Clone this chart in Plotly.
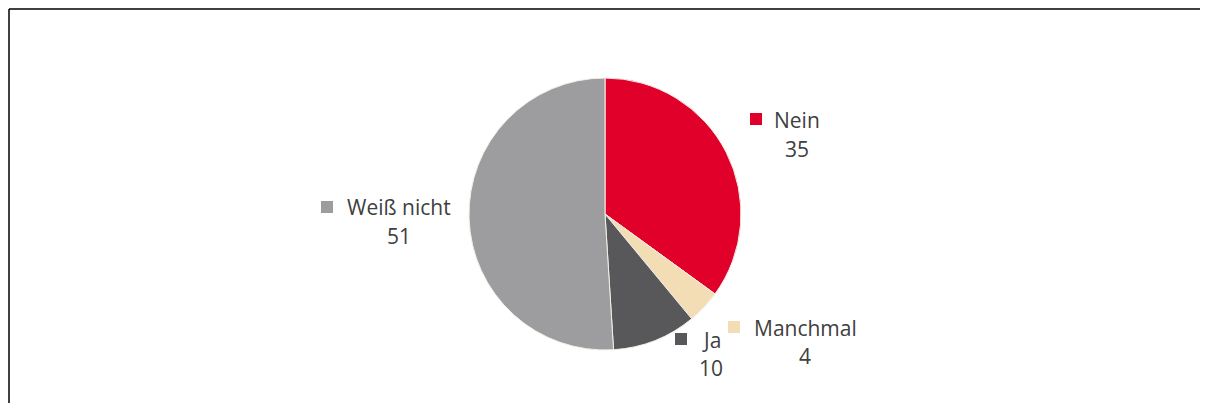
import plotly.graph_objects as go

categories = ["Nein", "Manchmal", "Ja", "Weiß nicht"]
values = [35, 4, 10, 51]
colors = ["#E1002A", "#F2DDB5", "#58585A", "#9D9D9F"]

# page body has an 8px margin, so the figure starts at (8, 8) of the window
OFF = 8
W, H = 1208 - OFF, 403 - OFF

def px(x):
    return (x - OFF) / W

def py(y):
    return 1 - (y - OFF) / H

# (name centre x, name mid y, value mid y, square centre x, square centre y) in window pixels
label_pos = {
    "Nein": (797, 119, 148, 756, 119),
    "Manchmal": (805, 327, 355, 734, 327),
    "Ja": (711, 339, 367, 681, 339),
    "Weiß nicht": (399, 206, 235, 327, 207),
}
SQ = 12

fig = go.Figure()
cx, cy, r = 605, 214, 136
fig.add_trace(go.Pie(
    labels=categories,
    values=values,
    sort=False,
    direction="clockwise",
    rotation=0,
    textinfo="none",
    hoverinfo="label+value",
    marker=dict(colors=colors, line=dict(color="#F3EFE6", width=1)),
    domain=dict(x=[px(cx - r), px(cx + r)], y=[py(cy + r), py(cy - r)]),
    showlegend=False,
))

font = dict(family="Open Sans, Liberation Sans, sans-serif", size=21, color="#404040")
shapes = [
    dict(type="line", xref="paper", yref="paper", x0=px(9), x1=px(1205), y0=py(9), y1=py(9),
         line=dict(color="#000000", width=1.5)),
    dict(type="line", xref="paper", yref="paper", x0=px(9), x1=px(9), y0=py(9), y1=-0.02,
         line=dict(color="#000000", width=1.5)),
]
annotations = []
for cat, val, col in zip(categories, values, colors):
    nx, ny, vy, sx, sy = label_pos[cat]
    annotations.append(dict(x=px(nx), y=py(ny + 1), xref="paper", yref="paper",
                            text=cat, showarrow=False, xanchor="center", yanchor="middle", font=font))
    annotations.append(dict(x=px(nx), y=py(vy + 1), xref="paper", yref="paper",
                            text=str(val), showarrow=False, xanchor="center", yanchor="middle", font=font))
    shapes.append(dict(type="rect", xref="paper", yref="paper",
                       x0=px(sx - SQ / 2), x1=px(sx + SQ / 2),
                       y0=py(sy + SQ / 2), y1=py(sy - SQ / 2),
                       fillcolor=col, line=dict(width=0)))

fig.update_layout(
    width=W, height=H,
    margin=dict(l=0, r=0, t=0, b=0),
    paper_bgcolor="white", plot_bgcolor="white",
    shapes=shapes, annotations=annotations,
)
fig.write_html("out.html")
